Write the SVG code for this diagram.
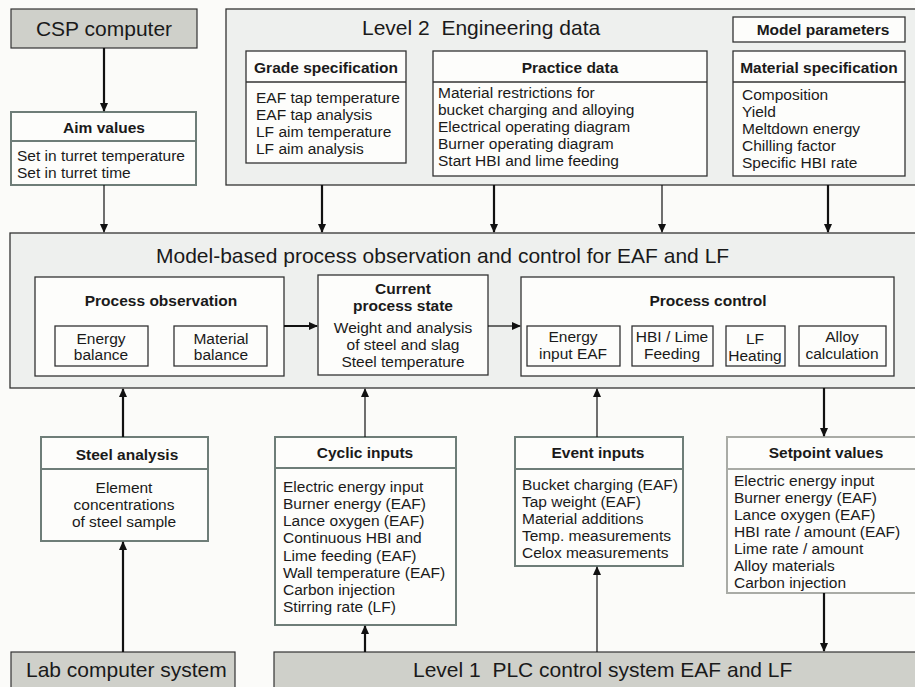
<svg xmlns="http://www.w3.org/2000/svg" width="915" height="687" viewBox="0 0 915 687">
<defs>
<marker id="ah" markerUnits="userSpaceOnUse" markerWidth="9" markerHeight="10" refX="8" refY="4" orient="auto">
<path d="M0,0 L9,4 L0,8 Z" fill="#111"/>
</marker>
<style>
text{font-family:"Liberation Sans",Arial,sans-serif;fill:#1a1a1a}
.big{font-size:21px;white-space:pre}
.b{font-size:15.5px;font-weight:bold}
.t{font-size:15.5px}
.m{text-anchor:middle}
.gray{fill:#cfd0ca;stroke:#333;stroke-width:1.2}
.panel{fill:#eef0ee;stroke:#333;stroke-width:1.3}
.box{fill:#fdfdfb;stroke:#333;stroke-width:1.3}
.gbox{fill:#fdfdfb;stroke:#6e7d78;stroke-width:2}
.lbox{fill:#fdfdfb;stroke:#a9aba6;stroke-width:2}
.thick{stroke:#111;stroke-width:2.2;fill:none;marker-end:url(#ah)}
.thin{stroke:#111;stroke-width:1.2;fill:none;marker-end:url(#ah)}
</style>
</defs>
<rect width="915" height="687" fill="#fbfbf9"/>

<g id="csp">
<rect class="gray" x="11" y="9" width="186" height="39"/>
<text class="big m" x="104" y="36">CSP computer</text>
</g>

<g id="aim">
<rect class="gbox" x="11" y="112" width="185" height="73"/>
<line x1="11" y1="141" x2="196" y2="141" stroke="#6e7d78" stroke-width="2"/>
<text class="b m" x="104" y="133">Aim values</text>
<text class="t" x="17" y="161">Set in turret temperature</text>
<text class="t" x="17" y="178">Set in turret time</text>
</g>

<g id="level2">
<rect class="panel" x="226" y="9" width="700" height="176"/>
<text class="big" x="362" y="35" xml:space="preserve">Level 2  Engineering data</text>
</g>

<g id="grade">
<rect class="box" x="246" y="51" width="160" height="112"/>
<line x1="246" y1="82" x2="406" y2="82" stroke="#333" stroke-width="1.3"/>
<text class="b m" x="326" y="73">Grade specification</text>
<text class="t" x="256" y="103">EAF tap temperature</text>
<text class="t" x="256" y="120">EAF tap analysis</text>
<text class="t" x="256" y="137">LF aim temperature</text>
<text class="t" x="256" y="154">LF aim analysis</text>
</g>

<g id="practice">
<rect class="box" x="433" y="51" width="274" height="125"/>
<line x1="433" y1="82" x2="707" y2="82" stroke="#333" stroke-width="1.3"/>
<text class="b m" x="570" y="73">Practice data</text>
<text class="t" x="438" y="98">Material restrictions for</text>
<text class="t" x="438" y="115">bucket charging and alloying</text>
<text class="t" x="438" y="132">Electrical operating diagram</text>
<text class="t" x="438" y="149">Burner operating diagram</text>
<text class="t" x="438" y="166">Start HBI and lime feeding</text>
</g>

<g id="modelparams">
<rect class="box" x="733" y="17" width="172" height="25"/>
<text class="b m" x="823" y="35">Model parameters</text>
</g>

<g id="material">
<rect class="box" x="733" y="51" width="172" height="125"/>
<line x1="733" y1="82" x2="905" y2="82" stroke="#333" stroke-width="1.3"/>
<text class="b m" x="819" y="73">Material specification</text>
<text class="t" x="742" y="100">Composition</text>
<text class="t" x="742" y="117">Yield</text>
<text class="t" x="742" y="134">Meltdown energy</text>
<text class="t" x="742" y="151">Chilling factor</text>
<text class="t" x="742" y="168">Specific HBI rate</text>
</g>

<g id="model">
<rect class="panel" x="10" y="233" width="920" height="155"/>
<text class="big" x="156" y="263">Model-based process observation and control for EAF and LF</text>
</g>

<g id="observation">
<rect class="box" x="35" y="277" width="249" height="99"/>
<text class="b m" x="161" y="306">Process observation</text>
<rect class="box" x="55" y="326" width="93" height="40"/>
<text class="t m" x="101" y="344">Energy</text>
<text class="t m" x="101" y="360">balance</text>
<rect class="box" x="174" y="326" width="93" height="40"/>
<text class="t m" x="221" y="344">Material</text>
<text class="t m" x="221" y="360">balance</text>
</g>

<g id="state">
<rect class="box" x="318" y="275" width="170" height="100"/>
<text class="b m" x="403" y="294">Current</text>
<text class="b m" x="403" y="311">process state</text>
<text class="t m" x="403" y="333">Weight and analysis</text>
<text class="t m" x="403" y="350">of steel and slag</text>
<text class="t m" x="403" y="367">Steel temperature</text>
</g>

<g id="control">
<rect class="box" x="521" y="277" width="373" height="99"/>
<text class="b m" x="708" y="306">Process control</text>
<rect class="box" x="527" y="326" width="93" height="40"/>
<text class="t m" x="573" y="342">Energy</text>
<text class="t m" x="573" y="359">input EAF</text>
<rect class="box" x="632" y="326" width="81" height="40"/>
<text class="t m" x="672" y="342">HBI / Lime</text>
<text class="t m" x="672" y="359">Feeding</text>
<rect class="box" x="726" y="326" width="59" height="40"/>
<text class="t m" x="755" y="344">LF</text>
<text class="t m" x="755" y="361">Heating</text>
<rect class="box" x="799" y="326" width="87" height="40"/>
<text class="t m" x="842" y="342">Alloy</text>
<text class="t m" x="842" y="359">calculation</text>
</g>

<g id="steel">
<rect class="gbox" x="41" y="437" width="167" height="104"/>
<line x1="41" y1="469" x2="208" y2="469" stroke="#6e7d78" stroke-width="2"/>
<text class="b m" x="127" y="460">Steel analysis</text>
<text class="t m" x="124" y="493">Element</text>
<text class="t m" x="124" y="510">concentrations</text>
<text class="t m" x="124" y="527">of steel sample</text>
</g>

<g id="cyclic">
<rect class="gbox" x="275" y="437" width="181" height="188"/>
<line x1="275" y1="468" x2="456" y2="468" stroke="#6e7d78" stroke-width="2"/>
<text class="b m" x="365" y="458">Cyclic inputs</text>
<text class="t" x="283" y="492">Electric energy input</text>
<text class="t" x="283" y="509">Burner energy (EAF)</text>
<text class="t" x="283" y="526">Lance oxygen (EAF)</text>
<text class="t" x="283" y="543">Continuous HBI and</text>
<text class="t" x="283" y="561">Lime feeding (EAF)</text>
<text class="t" x="283" y="578">Wall temperature (EAF)</text>
<text class="t" x="283" y="595">Carbon injection</text>
<text class="t" x="283" y="612">Stirring rate (LF)</text>
</g>

<g id="event">
<rect class="gbox" x="515" y="437" width="168" height="129"/>
<line x1="515" y1="469" x2="683" y2="469" stroke="#6e7d78" stroke-width="2"/>
<text class="b m" x="598" y="458">Event inputs</text>
<text class="t" x="522" y="490">Bucket charging (EAF)</text>
<text class="t" x="522" y="507">Tap weight (EAF)</text>
<text class="t" x="522" y="524">Material additions</text>
<text class="t" x="522" y="541">Temp. measurements</text>
<text class="t" x="522" y="558">Celox measurements</text>
</g>

<g id="setpoint">
<rect class="lbox" x="727" y="437" width="200" height="156"/>
<line x1="727" y1="469" x2="927" y2="469" stroke="#a9aba6" stroke-width="2"/>
<text class="b m" x="826" y="458">Setpoint values</text>
<text class="t" x="734" y="486">Electric energy input</text>
<text class="t" x="734" y="503">Burner energy (EAF)</text>
<text class="t" x="734" y="520">Lance oxygen (EAF)</text>
<text class="t" x="734" y="537">HBI rate / amount (EAF)</text>
<text class="t" x="734" y="554">Lime rate / amount</text>
<text class="t" x="734" y="571">Alloy materials</text>
<text class="t" x="734" y="588">Carbon injection</text>
</g>

<g id="lab">
<rect class="gray" x="11" y="652" width="224" height="45"/>
<text class="big" x="26" y="677">Lab computer system</text>
</g>

<g id="level1">
<rect class="gray" x="274" y="652" width="660" height="45"/>
<text class="big" x="413" y="677" xml:space="preserve">Level 1  PLC control system EAF and LF</text>
</g>

<g id="connectors">
<line class="thick" x1="104" y1="48" x2="104" y2="111"/>
<line class="thin" x1="104" y1="185" x2="104" y2="232"/>
<line class="thick" x1="322" y1="185" x2="322" y2="232"/>
<line class="thick" x1="494" y1="185" x2="494" y2="232"/>
<line class="thin" x1="662" y1="185" x2="662" y2="232"/>
<line class="thick" x1="828" y1="185" x2="828" y2="232"/>
<line class="thick" x1="284" y1="326" x2="317" y2="326"/>
<line class="thin" x1="488" y1="326" x2="520" y2="326"/>
<line class="thick" x1="123" y1="437" x2="123" y2="389"/>
<line class="thick" x1="123" y1="652" x2="123" y2="542"/>
<line class="thin" x1="365" y1="437" x2="365" y2="389"/>
<line class="thick" x1="365" y1="652" x2="365" y2="626"/>
<line class="thin" x1="597" y1="437" x2="597" y2="389"/>
<line class="thin" x1="597" y1="652" x2="597" y2="567"/>
<line class="thick" x1="824" y1="388" x2="824" y2="436"/>
<line class="thick" x1="824" y1="593" x2="824" y2="651"/>
</g>
</svg>
